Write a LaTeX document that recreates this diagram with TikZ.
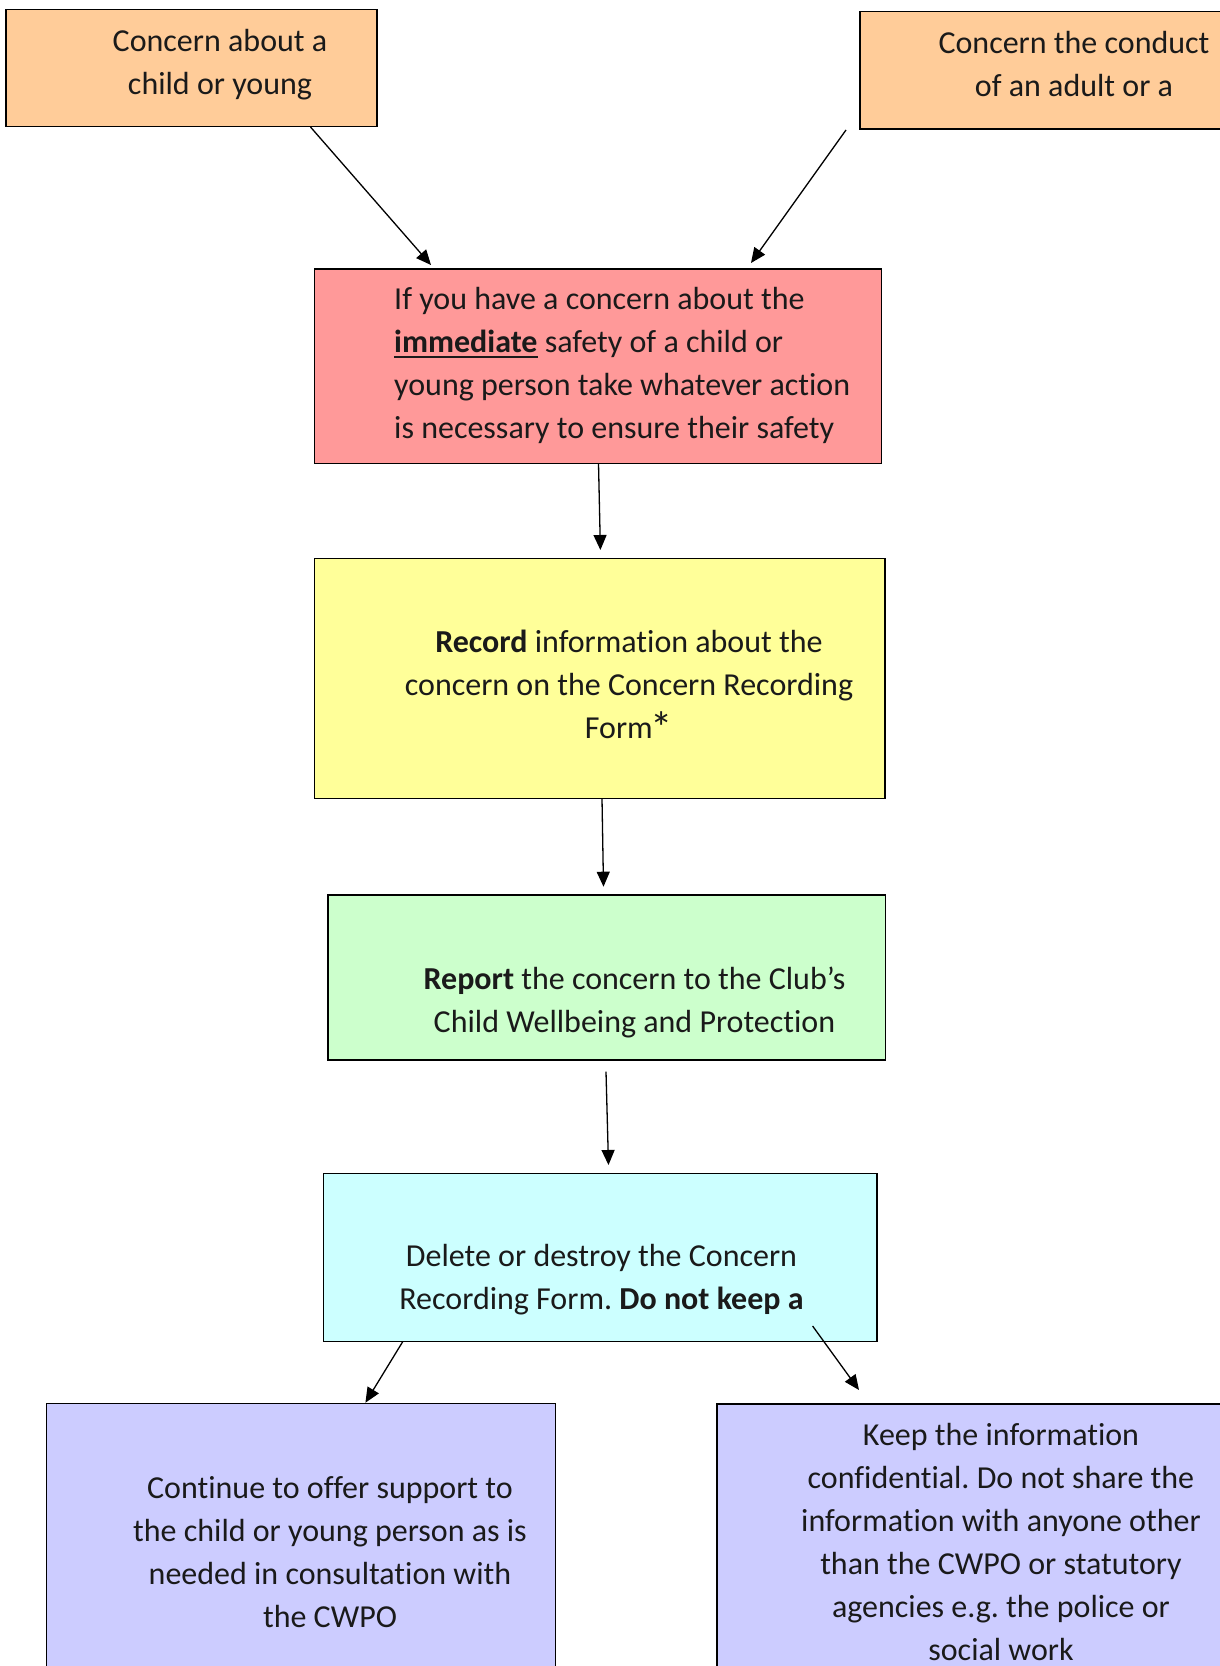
\documentclass[tikz,border=0pt]{standalone}
\usepackage{fontspec}
\setmainfont{Carlito}[Ligatures={NoCommon}]
\usetikzlibrary{arrows.meta}
\definecolor{fillorange}{HTML}{FFCC99}
\definecolor{fillred}{HTML}{FF9999}
\definecolor{fillyellow}{HTML}{FFFF99}
\definecolor{fillgreen}{HTML}{CCFFCC}
\definecolor{fillcyan}{HTML}{CCFFFF}
\definecolor{filllav}{HTML}{CCCCFF}
\definecolor{inktext}{HTML}{1A1A1A}
\newcommand\myul[1]{\setbox0\hbox{#1}\rlap{\rule[-5.5pt]{\wd0}{2pt}}\box0\relax}
\begin{document}
\begin{tikzpicture}[x=1pt,y=-1pt,
  box/.style={draw=black, line width=1.4pt, rectangle, inner sep=0pt},
  openbox/.style={rectangle, inner sep=0pt},
  edge/.style={draw=black, line width=1.4pt},
  txt/.style={inner sep=0pt, font=\fontsize{32}{43}\selectfont\frenchspacing, text=inktext},
  arr/.style={line width=1.3pt, -{Triangle[length=15pt,width=13pt]}}]
\useasboundingbox (0,0) rectangle (1219,1666);
\fill[white] (0,0) rectangle (1219,1666);
% boxes
\node[box, fill=fillorange, minimum width=371pt, minimum height=117pt] (A) at (191.5,68) {};
\node[openbox, fill=fillorange, minimum width=360pt, minimum height=117pt] (B) at (1040,70.2) {};
\draw[edge] (B.north east) -- (B.north west) -- (B.south west) -- (B.south east);
\node[box, fill=fillred, minimum width=566.8pt, minimum height=194.3pt] (C) at (597.9,366.15) {};
\node[box, fill=fillyellow, minimum width=570.5pt, minimum height=240pt] (D) at (599.75,678.3) {};
\node[box, fill=fillgreen, minimum width=557.5pt, minimum height=165pt] (E) at (606.75,977.5) {};
\node[box, fill=fillcyan, minimum width=553.3pt, minimum height=168.4pt] (F) at (600.35,1257.5) {};
\node[openbox, fill=filllav, minimum width=508.3pt, minimum height=270pt] (G) at (300.85,1538.7) {};
\draw[edge] (G.south west) -- (G.north west) -- (G.north east) -- (G.south east);
\node[openbox, fill=filllav, minimum width=505pt, minimum height=270pt] (H) at (969.5,1539) {};
\draw[edge] (H.north east) -- (H.north west) -- (H.south west);
% texts
\node[txt, align=center] (tA) at (220,64.4) {\strut Concern about a\\child or young\strut};
\node[txt, align=center] (tB) at (1074,66.1) {\strut Concern the conduct\\of an adult or a\strut};
\node[txt, align=left, anchor=west] (tC) at (394,365.65) {\strut If you have a concern about the\\\myul{\textbf{immediate}} safety of a child or\\young person take whatever action\\is necessary to ensure their safety\strut};
\node[txt, align=center] (tD) at (629,686.4) {\strut\textbf{Record} information about the\\concern on the Concern Recording\\Form\kern-2pt\raisebox{-5pt}{\scalebox{1.4}{*}}\strut};
\node[txt, align=center] (tE) at (634.5,1002.4) {\strut\textbf{Report} the concern to the Club’s\\Child Wellbeing and Protection\strut};
\node[txt, align=center] (tF) at (601.5,1279.75) {\strut Delete or destroy the Concern\\Recording Form. \textbf{Do not keep a}\strut};
\node[txt, align=center] (tG) at (330,1554.4) {\strut Continue to offer support to\\the child or young person as is\\needed in consultation with\\the CWPO\strut};
\node[txt, align=center] (tH) at (1001,1543.9) {\strut Keep the information\\confidential. Do not share the\\information with anyone other\\than the CWPO or statutory\\agencies e.g. the police or\\social work\strut};
% connector end points
\coordinate (a1) at (310.5,127);   \coordinate (a2) at (431,265);
\coordinate (b1) at (846,130);     \coordinate (b2) at (751,263);
\coordinate (c1) at (598.5,463.3); \coordinate (c2) at (600.4,550);
\coordinate (d1) at (602,798.3);   \coordinate (d2) at (603.5,886.7);
\coordinate (e1) at (606,1071.7);  \coordinate (e2) at (608.5,1165);
\coordinate (f1) at (402.7,1341.7);\coordinate (f2) at (365.4,1402.7);
\coordinate (g1) at (812.6,1326);  \coordinate (g2) at (859,1390);
\draw[arr] (a1) -- (a2);
\draw[arr] (b1) -- (b2);
\draw[arr] (c1) -- (c2);
\draw[arr] (d1) -- (d2);
\draw[arr] (e1) -- (e2);
\draw[arr] (f1) -- (f2);
\draw[arr] (g1) -- (g2);
\end{tikzpicture}
\end{document}
